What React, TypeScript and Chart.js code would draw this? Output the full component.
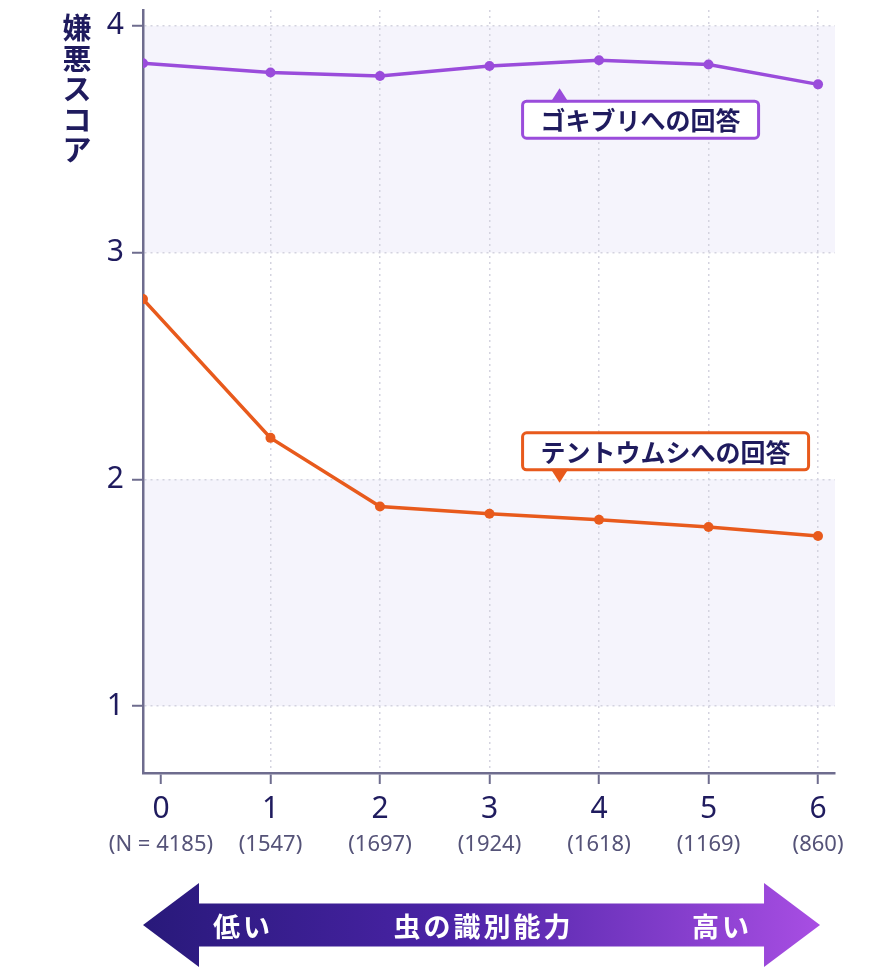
import { useEffect, useRef } from "react";
import { Chart, registerables, type Plugin } from "chart.js";

Chart.register(...registerables);

// 識別能力スコア（0〜6）
const levels = [0, 1, 2, 3, 4, 5, 6];
// x position of each group: group 0 is drawn on the y-axis line in the original
const groupX = [-0.164, 1, 2, 3, 4, 5, 6];
const sampleSizes = ["(N = 4185)", "(1547)", "(1697)", "(1924)", "(1618)", "(1169)", "(860)"];

const cockroach = [3.835, 3.794, 3.779, 3.823, 3.848, 3.83, 3.742];
const ladybird = [2.795, 2.183, 1.88, 1.848, 1.822, 1.79, 1.75];

const yTicks = [1, 2, 3, 4];
const shadedBands = [
  [1, 2],
  [3, 4],
];

const NAVY = "#1f1b5e";
const PURPLE = "#9a4cdb";
const ORANGE = "#e85a1c";
const AXIS = "#6e6c8e";
const GRID = "#d4d3df";
const BAND = "#f5f4fc";
const JP = "'Noto Sans CJK JP', 'Noto Sans', sans-serif";
const NUM = "'Noto Sans', 'Open Sans', sans-serif";

const callouts = [
  { text: "ゴキブリへの回答", x: 3.64, y: 3.725, color: PURPLE, pointer: "up" },
  { text: "テントウムシへの回答", x: 3.64, y: 1.985, color: ORANGE, pointer: "down" },
];

const bandsPlugin: Plugin<"line"> = {
  id: "bands",
  beforeDraw(chart) {
    const { ctx, chartArea } = chart;
    const y = chart.scales.y;
    ctx.save();
    ctx.fillStyle = BAND;
    for (const [a, b] of shadedBands) {
      const top = y.getPixelForValue(b);
      const bottom = y.getPixelForValue(a);
      ctx.fillRect(chartArea.left, top, chartArea.right - chartArea.left, bottom - top);
    }
    ctx.restore();
  },
};

function drawCallout(ctx: CanvasRenderingContext2D, c: (typeof callouts)[number], px: number, py: number) {
  ctx.font = `bold 25px ${JP}`;
  const w = ctx.measureText(c.text).width + 36;
  const h = 37;
  const left = px - 37;
  const top = c.pointer === "up" ? py + 13 : py - 13 - h;
  ctx.fillStyle = "#fff";
  ctx.strokeStyle = c.color;
  ctx.lineWidth = 3;
  ctx.beginPath();
  ctx.roundRect(left, top, w, h, 4);
  ctx.fill();
  ctx.stroke();
  ctx.fillStyle = c.color;
  ctx.beginPath();
  if (c.pointer === "up") {
    ctx.moveTo(px, py);
    ctx.lineTo(px + 9, top + 1);
    ctx.lineTo(px - 9, top + 1);
  } else {
    ctx.moveTo(px, py);
    ctx.lineTo(px + 9, top + h - 1);
    ctx.lineTo(px - 9, top + h - 1);
  }
  ctx.closePath();
  ctx.fill();
  ctx.fillStyle = NAVY;
  ctx.textAlign = "center";
  ctx.textBaseline = "middle";
  ctx.fillText(c.text, left + w / 2, top + h / 2 + 1);
}

const decorPlugin: Plugin<"line"> = {
  id: "decor",
  afterDraw(chart) {
    const { ctx, chartArea } = chart;
    const x = chart.scales.x;
    const y = chart.scales.y;
    ctx.save();

    // y-axis title, written vertically
    ctx.font = `bold 29px ${JP}`;
    ctx.fillStyle = NAVY;
    ctx.textAlign = "center";
    ctx.textBaseline = "middle";
    [..."嫌悪スコア"].forEach((ch, i) => ctx.fillText(ch, 77, 28 + i * 30.5));

    for (const c of callouts) {
      drawCallout(ctx, c, x.getPixelForValue(c.x), y.getPixelForValue(c.y));
    }

    // direction arrow under the axis
    const left = chartArea.left;
    const right = x.getPixelForValue(6) + 2;
    const cy = chartArea.bottom + 152;
    const head = 56;
    const headH = 42;
    const shaftH = 21.5;
    const grad = ctx.createLinearGradient(left, 0, right, 0);
    grad.addColorStop(0, "#28197a");
    grad.addColorStop(0.45, "#4a23a6");
    grad.addColorStop(1, "#a84ee3");
    ctx.fillStyle = grad;
    ctx.beginPath();
    ctx.moveTo(left, cy);
    ctx.lineTo(left + head, cy - headH);
    ctx.lineTo(left + head, cy - shaftH);
    ctx.lineTo(right - head, cy - shaftH);
    ctx.lineTo(right - head, cy - headH);
    ctx.lineTo(right, cy);
    ctx.lineTo(right - head, cy + headH);
    ctx.lineTo(right - head, cy + shaftH);
    ctx.lineTo(left + head, cy + shaftH);
    ctx.lineTo(left + head, cy + headH);
    ctx.closePath();
    ctx.fill();

    ctx.fillStyle = "#fff";
    ctx.font = `bold 27px ${JP}`;
    (ctx as any).letterSpacing = "3px";
    ctx.textBaseline = "middle";
    ctx.textAlign = "left";
    ctx.fillText("低い", left + 70, cy + 2);
    ctx.textAlign = "center";
    ctx.fillText("虫の識別能力", (left + right) / 2 + 2, cy + 2);
    ctx.textAlign = "right";
    ctx.fillText("高い", right - 68, cy + 2);
    ctx.restore();
  },
};

export default function App() {
  const ref = useRef<HTMLCanvasElement>(null);

  useEffect(() => {
    if (!ref.current) return;
    const xMin = groupX[0];
    const xMax = 6.155;
    const setXTicks = (scale: any) => {
      scale.ticks = levels.map((v) => ({ value: v }));
    };
    const chart = new Chart(ref.current, {
      type: "line",
      data: {
        datasets: [
          {
            label: "ゴキブリへの回答",
            data: cockroach.map((v, i) => ({ x: groupX[i], y: v })),
            borderColor: PURPLE,
            backgroundColor: PURPLE,
            borderWidth: 3.5,
            pointRadius: 5,
            pointBorderWidth: 0,
            tension: 0,
          },
          {
            label: "テントウムシへの回答",
            data: ladybird.map((v, i) => ({ x: groupX[i], y: v })),
            borderColor: ORANGE,
            backgroundColor: ORANGE,
            borderWidth: 3.5,
            pointRadius: 5,
            pointBorderWidth: 0,
            tension: 0,
          },
        ],
      },
      options: {
        animation: false,
        responsive: true,
        maintainAspectRatio: false,
        layout: { padding: { top: 10, left: 0, right: 51, bottom: 109 } },
        plugins: { legend: { display: false }, tooltip: { enabled: false } },
        scales: {
          x: {
            type: "linear",
            position: "bottom",
            weight: 0,
            min: xMin,
            max: xMax,
            afterBuildTicks: setXTicks,
            afterFit: (s: any) => {
              s.height = 52;
              s.paddingLeft = 0;
              s.paddingRight = 0;
            },
            grid: {
              color: (c: any) => (c.tick && c.tick.value === 0 ? "rgba(0,0,0,0)" : GRID),
              lineWidth: 1.5,
              tickColor: AXIS,
              tickLength: 11,
              tickWidth: 2,
            },
            border: { color: AXIS, width: 2.5, dash: [2, 4] },
            ticks: {
              padding: 7,
              color: NAVY,
              font: { family: NUM, size: 30 },
              callback: (v: any) => String(v),
            },
          },
          xN: {
            type: "linear",
            position: "bottom",
            weight: 1,
            min: xMin,
            max: xMax,
            afterBuildTicks: setXTicks,
            afterFit: (s: any) => {
              s.height = 36;
              s.paddingLeft = 0;
              s.paddingRight = 0;
            },
            grid: { display: false, drawTicks: false },
            border: { display: false },
            ticks: {
              padding: 7,
              color: "#555378",
              font: { family: NUM, size: 22 },
              callback: (v: any) => sampleSizes[levels.indexOf(Number(v))] ?? "",
            },
          },
          y: {
            type: "linear",
            min: 0.705,
            max: 4.07,
            afterBuildTicks: (scale: any) => {
              scale.ticks = yTicks.map((v) => ({ value: v }));
            },
            afterFit: (s: any) => {
              s.width = 143;
              s.paddingTop = 0;
              s.paddingBottom = 0;
            },
            grid: {
              color: GRID,
              lineWidth: 1.5,
              tickColor: AXIS,
              tickLength: 11,
              tickWidth: 2,
            },
            border: { color: AXIS, width: 2.5, dash: [2, 4] },
            ticks: {
              padding: 8,
              color: NAVY,
              font: { family: NUM, size: 30 },
            },
          },
        },
      },
      plugins: [bandsPlugin, decorPlugin],
    });
    return () => chart.destroy();
  }, []);

  return (
    <div style={{ position: "absolute", left: 0, top: 0, width: 886, height: 970, background: "#fff" }}>
      <canvas ref={ref} />
    </div>
  );
}
